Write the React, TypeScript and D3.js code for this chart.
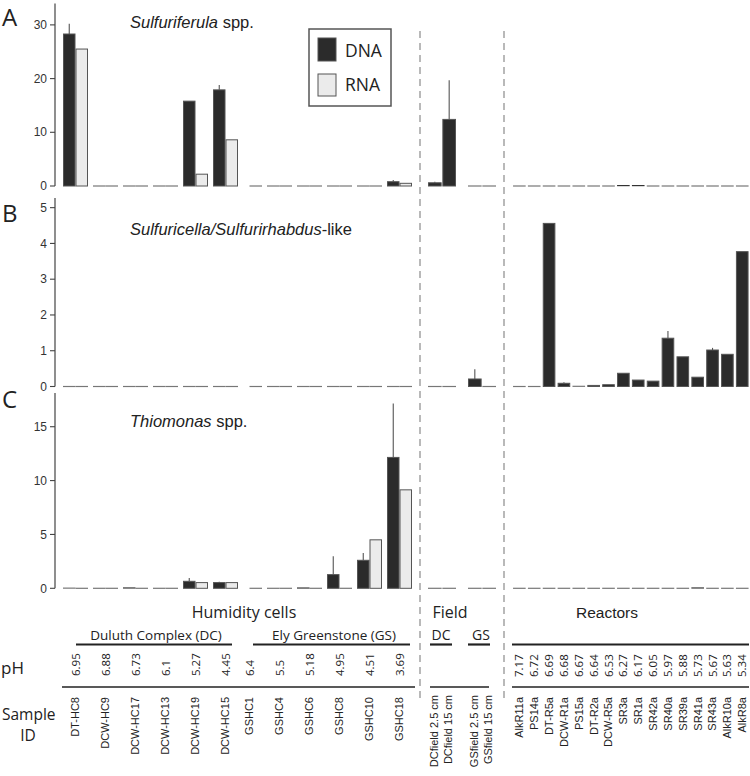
import React from 'react';
import * as d3 from 'd3';

// ---------- categories ----------
const humiditySamples = ['DT-HC8', 'DCW-HC9', 'DCW-HC17', 'DCW-HC13', 'DCW-HC19', 'DCW-HC15', 'GSHC1', 'GSHC4', 'GSHC6', 'GSHC8', 'GSHC10', 'GSHC18'];
const humidityGroups = ['DC', 'DC', 'DC', 'DC', 'DC', 'DC', 'GS', 'GS', 'GS', 'GS', 'GS', 'GS'];
const humidityPH = ['6.95', '6.88', '6.73', '6.1', '5.27', '4.45', '6.4', '5.5', '5.18', '4.95', '4.51', '3.69'];
const fieldSamples = ['DCfield 2.5 cm', 'DCfield 15 cm', 'GSfield 2.5 cm', 'GSfield 15 cm'];
const fieldGroups = ['DC', 'DC', 'GS', 'GS'];
const reactorSamples = ['AlkR11a', 'PS14a', 'DT-R5a', 'DCW-R1a', 'PS15a', 'DT-R2a', 'DCW-R5a', 'SR3a', 'SR1a', 'SR42a', 'SR40a', 'SR39a', 'SR41a', 'SR43a', 'AlkR10a', 'AlkR8a'];
const reactorPH = ['7.17', '6.72', '6.69', '6.68', '6.67', '6.64', '6.53', '6.27', '6.17', '6.05', '5.97', '5.88', '5.73', '5.67', '5.63', '5.34'];
const seriesNames = ['DNA', 'RNA'];

// ---------- panel A: Sulfuriferula ----------
const aHumDNA = [28.3, 0, 0, 0, 15.8, 17.9, null, 0, 0, 0, 0, 0.8];
const aHumDNAErr = [1.9, 0, 0, 0, 0, 0.9, 0, 0, 0, 0, 0, 0.3];
const aHumRNA = [25.5, 0, 0, 0, 2.2, 8.6, 0, 0, 0, 0, 0, 0.5];
const aFieldDNA = [0.6, 12.4, 0, 0];
const aFieldErr = [0.2, 7.3, 0, 0];
const aReactorDNA = [0, 0, 0, 0, 0, 0, 0, 0.15, 0.15, 0, 0, 0, 0, 0, 0, 0];
const aReactorErr = [0, 0, 0, 0, 0, 0, 0, 0, 0, 0, 0, 0, 0, 0, 0, 0];
const aTicks = [0, 10, 20, 30];

// ---------- panel B: Sulfuricella/Sulfurirhabdus ----------
const bHumDNA = [0, 0, 0, 0, 0, 0, null, 0, 0, 0, 0, 0];
const bHumDNAErr = [0, 0, 0, 0, 0, 0, 0, 0, 0, 0, 0, 0];
const bHumRNA = [0, 0, 0, 0, 0, 0, 0, 0, 0, 0, 0, 0];
const bFieldDNA = [0, 0, 0.21, 0];
const bFieldErr = [0, 0, 0.27, 0];
const bReactorDNA = [0, 0, 4.56, 0.09, 0.01, 0.03, 0.05, 0.37, 0.18, 0.15, 1.35, 0.83, 0.26, 1.02, 0.9, 3.77];
const bReactorErr = [0, 0, 0, 0.03, 0, 0, 0, 0, 0, 0, 0.2, 0, 0, 0.06, 0, 0];
const bTicks = [0, 1, 2, 3, 4, 5];

// ---------- panel C: Thiomonas ----------
const cHumDNA = [0.03, 0, 0.06, 0, 0.65, 0.53, null, 0, 0.05, 1.27, 2.6, 12.15];
const cHumDNAErr = [0, 0, 0, 0, 0.3, 0.07, 0, 0, 0, 1.7, 0.67, 5.0];
const cHumRNA = [0, 0, 0, 0, 0.53, 0.53, 0, 0, 0, 0, 4.5, 9.14];
const cFieldDNA = [0, 0, 0, 0];
const cFieldErr = [0, 0, 0, 0];
const cReactorDNA = [0, 0, 0, 0, 0, 0, 0, 0, 0, 0, 0, 0, 0.06, 0, 0, 0];
const cReactorErr = [0, 0, 0, 0, 0, 0, 0, 0, 0, 0, 0, 0, 0, 0, 0, 0];
const cTicks = [0, 5, 10, 15];

const panels = [
  { letter: 'A', genus: 'Sulfuriferula', rest: ' spp.', max: 34, top: 3.4, bottom: 186, ticks: aTicks,
    humDNA: aHumDNA, humErr: aHumDNAErr, humRNA: aHumRNA, fieldDNA: aFieldDNA, fieldErr: aFieldErr, reactorDNA: aReactorDNA, reactorErr: aReactorErr, letterY: 26, titleY: 28 },
  { letter: 'B', genus: 'Sulfuricella/Sulfurirhabdus', rest: '-like', max: 5.27, top: 198, bottom: 386.5, ticks: bTicks,
    humDNA: bHumDNA, humErr: bHumDNAErr, humRNA: bHumRNA, fieldDNA: bFieldDNA, fieldErr: bFieldErr, reactorDNA: bReactorDNA, reactorErr: bReactorErr, letterY: 222, titleY: 235 },
  { letter: 'C', genus: 'Thiomonas', rest: ' spp.', max: 18.13, top: 393, bottom: 588.3, ticks: cTicks,
    humDNA: cHumDNA, humErr: cHumDNAErr, humRNA: cHumRNA, fieldDNA: cFieldDNA, fieldErr: cFieldErr, reactorDNA: cReactorDNA, reactorErr: cReactorErr, letterY: 408, titleY: 427 },
];

const DNA_FILL = '#2b2b2b';
const RNA_FILL = '#ebebeb';
const BAR_STROKE = '#555';
const ZERO_STROKE = '#777';
const SANS = '"Liberation Sans", Arial, sans-serif';
const MYRIAD = '"Open Sans", "Noto Sans", sans-serif';

export default function App() {
  const axisX = 55;

  // x scales
  const dcSamples = humiditySamples.filter((_, i) => humidityGroups[i] === 'DC');
  const gsSamples = humiditySamples.filter((_, i) => humidityGroups[i] === 'GS');
  const dcBand = d3.scaleBand<string>().domain(dcSamples).range([60.5, 240.5]).paddingInner(5 / 30).paddingOuter(2.5 / 30);
  const gsBand = d3.scaleBand<string>().domain(gsSamples).range([234.5, 414.5]).paddingInner(5 / 30).paddingOuter(2.5 / 30);
  const humX = (s: string) => (dcSamples.includes(s) ? dcBand(s)! : gsBand(s)!);
  const humW = dcBand.bandwidth();
  const sub = d3.scaleBand<string>().domain(seriesNames).range([0, humW]);

  const fieldGroupBand = d3.scaleBand<string>().domain(['DC', 'GS']).range([428, 496]).paddingInner(0.3);
  const fieldSub = d3.scaleBand<number>().domain([0, 1]).range([0, fieldGroupBand.bandwidth()]).paddingInner(0.05);
  const fieldX = (i: number) => {
    const g = fieldGroups[i];
    const idx = fieldGroups.slice(0, i).filter((x) => x === g).length;
    return fieldGroupBand(g)! + fieldSub(idx)!;
  };
  const fieldW = fieldSub.bandwidth();

  const reactorBand = d3.scaleBand<string>().domain(reactorSamples).range([512, 749.6]).paddingInner(0.15).paddingOuter(0.07);

  const bar = (key: string, x: number, w: number, v: number | null, err: number, y: d3.ScaleLinear<number, number>, fill: string) => {
    if (v === null) return null;
    const y0 = y(0);
    const yv = y(v);
    const h = y0 - yv;
    const items: React.ReactNode[] = [];
    if (err > 0) {
      items.push(<line key={key + 'e'} x1={x + w / 2} x2={x + w / 2} y1={yv} y2={y(v + err)} stroke="#555" strokeWidth={1.1} />);
    }
    if (h < 1) {
      items.push(<line key={key + 'z'} x1={x} x2={x + w} y1={y0 - Math.max(h, 0) / 2} y2={y0 - Math.max(h, 0) / 2} stroke={h > 0.4 ? '#333' : ZERO_STROKE} strokeWidth={Math.max(1.2, h)} />);
    } else {
      items.push(<rect key={key + 'r'} x={x + 0.5} y={yv} width={w - 1} height={h} fill={fill} stroke={BAR_STROKE} strokeWidth={1} />);
    }
    return items;
  };

  const dashed = { stroke: '#a8a8a8', strokeWidth: 1.6, strokeDasharray: '7,5' };

  return (
    <svg width={750} height={776} style={{ position: 'absolute', left: 0, top: 0, background: '#fff' }}>
      <rect x={0} y={0} width={750} height={776} fill="#fff" />
      {/* vertical dashed separators */}
      <line x1={420} x2={420} y1={31} y2={698} {...dashed} />
      <line x1={504} x2={504} y1={31} y2={698} {...dashed} />

      {panels.map((p) => {
        const y = d3.scaleLinear().domain([0, p.max]).range([p.bottom, p.top]);
        return (
          <g key={p.letter}>
            <text x={2} y={p.letterY} fontFamily={MYRIAD} fontSize={24} fill="#222">{p.letter}</text>
            <line x1={axisX} x2={axisX} y1={p.top} y2={p.bottom} stroke="#444" strokeWidth={1.2} />
            {p.ticks.map((t) => (
              <g key={t}>
                <line x1={axisX - 5} x2={axisX} y1={y(t)} y2={y(t)} stroke="#444" strokeWidth={1.1} />
                <text x={axisX - 8} y={y(t)} dy="0.35em" textAnchor="end" fontFamily={SANS} fontSize={12} fill="#333">{t}</text>
              </g>
            ))}
            <text x={130} y={p.titleY} fontFamily={SANS} fontSize={16.5} fill="#222">
              <tspan fontStyle="italic">{p.genus}</tspan>
              <tspan>{p.rest}</tspan>
            </text>
            {humiditySamples.map((s, i) => (
              <g key={s}>
                {bar(s + 'r', humX(s) + sub('RNA')!, sub.bandwidth(), p.humRNA[i], 0, y, RNA_FILL)}
                {bar(s + 'd', humX(s) + sub('DNA')!, sub.bandwidth(), p.humDNA[i], p.humErr[i], y, DNA_FILL)}
              </g>
            ))}
            {fieldSamples.map((s, i) => (
              <g key={s}>{bar(s, fieldX(i), fieldW, p.fieldDNA[i], p.fieldErr[i], y, DNA_FILL)}</g>
            ))}
            {reactorSamples.map((s, i) => (
              <g key={s}>{bar(s, reactorBand(s)!, reactorBand.bandwidth(), p.reactorDNA[i], p.reactorErr[i], y, DNA_FILL)}</g>
            ))}
          </g>
        );
      })}

      {/* legend */}
      <rect x={309} y={29} width={82} height={77} fill="#fff" stroke="#555" strokeWidth={1.5} />
      <rect x={318} y={38} width={18} height={23} fill={DNA_FILL} stroke={BAR_STROKE} />
      <text x={345} y={57} fontFamily={MYRIAD} fontSize={17.5} fill="#222">{seriesNames[0]}</text>
      <rect x={318} y={74} width={18} height={22} fill={RNA_FILL} stroke={BAR_STROKE} />
      <text x={345} y={91} fontFamily={MYRIAD} fontSize={17.5} fill="#222">{seriesNames[1]}</text>

      {/* bottom annotation */}
      <text x={244} y={618} textAnchor="middle" fontFamily={MYRIAD} fontSize={16} fill="#222">Humidity cells</text>
      <text x={450} y={618} textAnchor="middle" fontFamily={MYRIAD} fontSize={16} fill="#222">Field</text>
      <text x={607} y={618} textAnchor="middle" fontFamily={SANS} fontSize={15.5} fill="#222">Reactors</text>

      <text x={156} y={640} textAnchor="middle" fontFamily={MYRIAD} fontSize={13.5} fill="#222">Duluth Complex (DC)</text>
      <text x={334} y={640} textAnchor="middle" fontFamily={MYRIAD} fontSize={13.5} fill="#222">Ely Greenstone (GS)</text>
      <text x={441} y={640} textAnchor="middle" fontFamily={MYRIAD} fontSize={14} fill="#222">DC</text>
      <text x={481} y={640} textAnchor="middle" fontFamily={MYRIAD} fontSize={14} fill="#222">GS</text>
      <line x1={76} x2={232} y1={644.5} y2={644.5} stroke="#222" strokeWidth={2.2} />
      <line x1={253} x2={410} y1={644.5} y2={644.5} stroke="#222" strokeWidth={2.2} />
      <line x1={430} x2={452} y1={644.5} y2={644.5} stroke="#222" strokeWidth={2.2} />
      <line x1={468} x2={490} y1={644.5} y2={644.5} stroke="#222" strokeWidth={2.2} />
      <line x1={512} x2={749} y1={644.5} y2={644.5} stroke="#222" strokeWidth={2.2} />

      <text x={1} y={674} fontFamily={MYRIAD} fontSize={17} fill="#222">pH</text>
      <text x={2} y={720} fontFamily={MYRIAD} fontSize={15.5} fill="#222">Sample</text>
      <text x={28} y={741} textAnchor="middle" fontFamily={MYRIAD} fontSize={15.5} fill="#222">ID</text>

      <line x1={62} x2={415} y1={687} y2={687} stroke="#222" strokeWidth={1.6} />
      <line x1={430} x2={489} y1={687} y2={687} stroke="#222" strokeWidth={1.6} />
      <line x1={512} x2={749} y1={687} y2={687} stroke="#222" strokeWidth={1.6} />

      {humiditySamples.map((s, i) => {
        const cx = humX(s) + humW / 2;
        return (
          <g key={s + 'lab'}>
            <text transform={`translate(${cx},676) rotate(-90)`} dy="0.35em" fontFamily={MYRIAD} fontSize={11.5} fill="#222">{humidityPH[i]}</text>
            <text transform={`translate(${cx},697) rotate(-90)`} dy="0.35em" textAnchor="end" fontFamily={SANS} fontSize={11} fill="#222">{s}</text>
          </g>
        );
      })}
      {fieldSamples.map((s, i) => (
        <text key={s + 'lab'} transform={`translate(${fieldX(i) + fieldW / 2 - 1},695) rotate(-90)`} dy="0.35em" textAnchor="end" fontFamily={SANS} fontSize={11} fill="#222">{s}</text>
      ))}
      {reactorSamples.map((s, i) => {
        const cx = reactorBand(s)! + reactorBand.bandwidth() / 2;
        return (
          <g key={s + 'lab'}>
            <text transform={`translate(${cx},677) rotate(-90)`} dy="0.35em" fontFamily={MYRIAD} fontSize={11.5} fill="#222">{reactorPH[i]}</text>
            <text transform={`translate(${cx},697) rotate(-90)`} dy="0.35em" textAnchor="end" fontFamily={SANS} fontSize={11} fill="#222">{s}</text>
          </g>
        );
      })}
    </svg>
  );
}
